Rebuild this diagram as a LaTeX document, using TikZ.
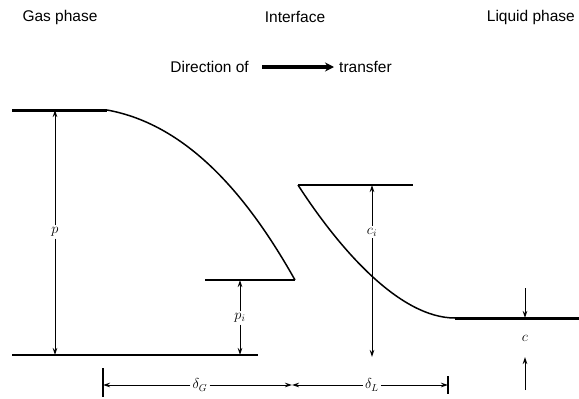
\documentclass[tikz,border=0pt]{standalone}
\usepackage{fontspec}
\setmainfont{Liberation Sans}
\usetikzlibrary{arrows.meta}
\begin{document}
\begin{tikzpicture}[x=1pt,y=-1pt,
  lbl/.style={font=\fontsize{15.5}{18}\selectfont, inner sep=1pt},
  dimlbl/.style={font=\fontsize{14}{16}\selectfont, fill=white, inner sep=2pt},
  prof/.style={line width=1.5pt},
  heavy/.style={line width=3pt},
  tip/.style={-{Stealth[length=7pt,width=4.5pt]}},
  dimline/.style={line width=1pt},
  tick/.style={line width=1.2pt}]
\useasboundingbox (0,0) rectangle (579,399);
% titles
\node[lbl] (gas) at (60,17) {Gas phase};
\node[lbl] (intf) at (295,17) {Interface};
\node[lbl,anchor=east] (liq) at (576,17) {Liquid phase};
% direction of transfer
\coordinate (dirA) at (262,67);
\coordinate (dirB) at (334,67);
\node[lbl,anchor=east] (dirL) at (250,67) {Direction of};
\node[lbl,anchor=west] (dirR) at (338,67) {transfer};
\draw[line width=3.5pt,-{Stealth[length=9pt,width=9pt]}] (dirA) -- (dirB);
% gas profile
\coordinate (gA) at (12,110);
\coordinate (gB) at (107,110);
\coordinate (gC) at (295,280);
\coordinate (gD) at (205,280);
\draw[heavy] (gA) -- (gB);
\draw[prof] (gB) .. controls (190,125) and (250,200) .. (gC);
\draw[prof] (gD) -- (gC);
% liquid profile
\coordinate (lA) at (298,185);
\coordinate (lB) at (413,185);
\coordinate (lC) at (455,318);
\coordinate (lD) at (579,318);
\draw[prof] (lA) -- (lB);
\draw[prof] (lA) .. controls (340,250) and (400,318) .. (lC);
\draw[heavy] (lC) -- (lD);
% baseline
\coordinate (b1) at (12,355);
\coordinate (b2) at (258,355);
\draw[prof] (b1) -- (b2);
% p
\coordinate (pB) at (55,355);
\coordinate (pT) at (55,110);
\node[dimlbl] (plab) at (55,232) {$p$};
\draw[dimline,tip] (plab) -- (pT);
\draw[dimline,tip] (plab) -- (pB);
% p_i
\coordinate (piB) at (240,355);
\coordinate (piT) at (240,280);
\node[dimlbl] (pilab) at (240,318) {$p_i$};
\draw[dimline,tip] (pilab) -- (piT);
\draw[dimline,tip] (pilab) -- (piB);
% c_i
\coordinate (ciB) at (372,357);
\coordinate (ciT) at (372,185);
\node[dimlbl] (cilab) at (372,232) {$c_i$};
\draw[dimline,tip] (cilab) -- (ciT);
\draw[dimline,tip] (cilab) -- (ciB);
% c
\coordinate (cT0) at (525,288);
\coordinate (cT) at (525,318);
\coordinate (cB0) at (525,390);
\coordinate (cB) at (525,357);
\draw[dimline,tip] (cT0) -- (cT);
\draw[dimline,tip] (cB0) -- (cB);
\node[dimlbl,fill=none] (clab) at (525,338) {$c$};
% film thicknesses
\coordinate (tG1) at (103,368);
\coordinate (tG2) at (103,397);
\draw[tick] (tG1) -- (tG2);
\coordinate (tL1) at (448,376);
\coordinate (tL2) at (448,394);
\draw[tick] (tL1) -- (tL2);
\coordinate (dG) at (103,385);
\coordinate (dI) at (292,385);
\coordinate (dL) at (448,385);
\node[dimlbl] (dGlab) at (200,385) {$\delta_G$};
\node[dimlbl] (dLlab) at (372,385) {$\delta_L$};
\draw[dimline,tip] (dGlab) -- (dG);
\draw[dimline,tip] (dGlab) -- (dI);
\draw[dimline,tip] (dLlab) -- (dI);
\draw[dimline,tip] (dLlab) -- (dL);
\end{tikzpicture}
\end{document}
